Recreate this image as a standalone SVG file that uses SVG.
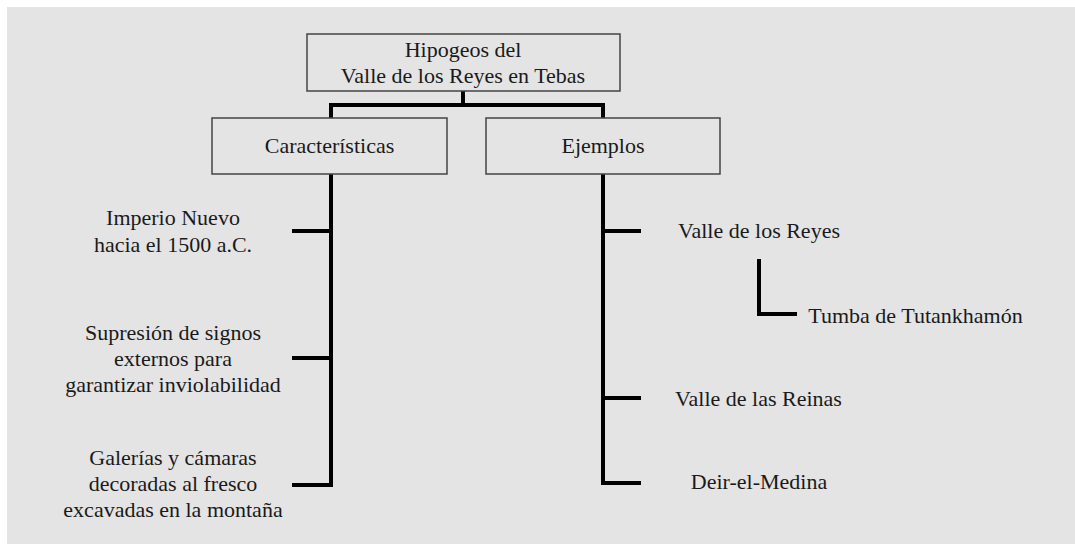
<svg xmlns="http://www.w3.org/2000/svg" width="1075" height="544" viewBox="0 0 1075 544">
<style>
.t{font-family:'Liberation Serif',Tinos,'Times New Roman',Times,'Noto Serif','DejaVu Serif',serif;font-size:22px;fill:#1a1a1a;text-anchor:middle}
.box{fill:#e4e4e4;stroke:#444;stroke-width:1.5}
.c{fill:none;stroke:#000;stroke-width:4;stroke-linecap:butt;stroke-linejoin:miter}
</style>
<rect x="0" y="0" width="1075" height="544" fill="#fff"/>
<rect x="7" y="7" width="1068" height="537" fill="#e4e4e4"/>
<g id="connectors">
<path class="c" d="M463 91V105M331 118V105H603V118"/>
<path class="c" d="M331 174V485H292M292 231H331M292 358H331"/>
<path class="c" d="M603 174V483H641M603 231H641M603 398H641"/>
<path class="c" d="M759 259V314H797"/>
</g>
<g id="root"><rect class="box" x="307" y="34" width="313" height="57"/>
<text class="t" x="463" y="57">Hipogeos del</text><text class="t" x="463" y="83">Valle de los Reyes en Tebas</text></g>
<g id="caracteristicas"><rect class="box" x="212" y="118" width="235" height="56"/><text class="t" x="329.5" y="153">Características</text></g>
<g id="ejemplos"><rect class="box" x="486" y="118" width="234" height="56"/><text class="t" x="603" y="153">Ejemplos</text></g>
<g id="imperio"><text class="t" x="173" y="225">Imperio Nuevo</text><text class="t" x="173" y="252">hacia el 1500 a.C.</text></g>
<g id="supresion"><text class="t" x="173" y="340">Supresión de signos</text><text class="t" x="173" y="366">externos para</text><text class="t" x="173" y="392">garantizar inviolabilidad</text></g>
<g id="galerias"><text class="t" x="173" y="465">Galerías y cámaras</text><text class="t" x="173" y="491">decoradas al fresco</text><text class="t" x="173" y="517">excavadas en la montaña</text></g>
<g id="valle-reyes"><text class="t" x="759" y="238">Valle de los Reyes</text></g>
<g id="tumba"><text class="t" x="915.5" y="323">Tumba de Tutankhamón</text></g>
<g id="valle-reinas"><text class="t" x="758.5" y="406">Valle de las Reinas</text></g>
<g id="deir"><text class="t" x="759" y="489">Deir-el-Medina</text></g>
</svg>
